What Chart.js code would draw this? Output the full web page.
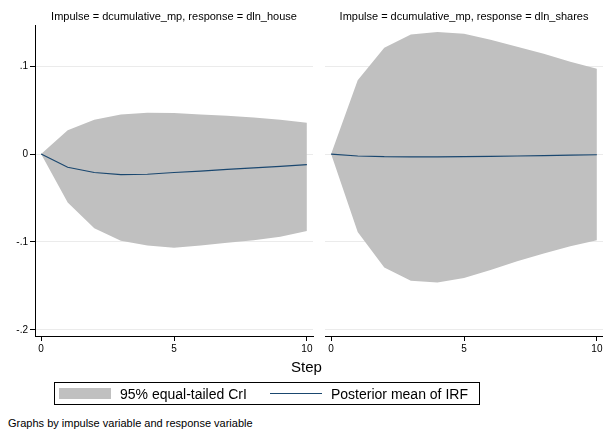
<!DOCTYPE html>
<html>
<head>
<meta charset="utf-8">
<script src="https://cdn.jsdelivr.net/npm/chart.js@4.4.1/dist/chart.umd.min.js"></script>
<style>
  body { margin: 0; background: #fff; font-family: "Liberation Sans", Arial, sans-serif; }
  #wrap { position: relative; width: 603px; height: 432px; overflow: hidden; background: #fff; }
  canvas { position: absolute; top: 0; }
  .txt { position: absolute; white-space: nowrap; color: #000; line-height: 1; }
</style>
</head>
<body>
<div id="wrap">
  <canvas id="house" width="318" height="360" style="left:0"></canvas>
  <canvas id="shares" width="285" height="360" style="left:318px"></canvas>

  <div class="txt" id="stepTitle" style="font-size:15px; left:291px; top:359px;">Step</div>

  <div id="legendBox" style="position:absolute; left:54px; top:382px; width:424px; height:21px; border:1px solid #000;">
    <div style="position:absolute; left:4px; top:5px; width:52px; height:11px; background:#c0c0c0;"></div>
    <div class="txt" style="font-size:14px; left:65px; top:4px;">95% equal-tailed CrI</div>
    <div style="position:absolute; left:215px; top:10px; width:52px; height:1px; background:#1a476f;"></div>
    <div class="txt" style="font-size:14px; left:276px; top:4px;">Posterior mean of IRF</div>
  </div>

  <div class="txt" style="font-size:11px; left:8px; top:418px;">Graphs by impulse variable and response variable</div>
</div>

<script>
const steps = [0, 1, 2, 3, 4, 5, 6, 7, 8, 9, 10];

// dln_house
const houseMean  = [0, -0.015, -0.021, -0.0235, -0.023, -0.021, -0.0194, -0.0175, -0.0158, -0.014, -0.0121];
const houseUpper = [0, 0.027, 0.039, 0.045, 0.047, 0.0466, 0.045, 0.0437, 0.0417, 0.039, 0.0356];
const houseLower = [0, -0.055, -0.0845, -0.0985, -0.104, -0.1065, -0.104, -0.101, -0.098, -0.094, -0.0875];

// dln_shares
const sharesMean  = [0, -0.0022, -0.003, -0.0031, -0.0031, -0.003, -0.0027, -0.0022, -0.0017, -0.0012, -0.0008];
const sharesUpper = [0, 0.084, 0.121, 0.136, 0.139, 0.137, 0.130, 0.122, 0.114, 0.105, 0.097];
const sharesLower = [0, -0.0886, -0.129, -0.144, -0.146, -0.141, -0.132, -0.122, -0.113, -0.105, -0.098];

const yTicks = [-0.2, -0.1, 0, 0.1];
const yLabels = ['-.2', '-.1', '0', '.1'];
const xTicks = [0, 5, 10];

const FONT = '"Liberation Sans", Arial, sans-serif';

function pts(vals) {
  return steps.map((s, i) => ({ x: s, y: vals[i] }));
}

function makePanel(id, title, mean, lower, upper, showY, pad) {
  const ctx = document.getElementById(id).getContext('2d');
  return new Chart(ctx, {
    type: 'line',
    data: {
      datasets: [
        { data: pts(lower), borderWidth: 0, pointRadius: 0, fill: false, order: 2 },
        { data: pts(upper), borderWidth: 0, pointRadius: 0, fill: '-1', backgroundColor: '#c0c0c0', order: 1 },
        // mean line drawn on top of the band
        { data: pts(mean), borderColor: '#1a476f', borderWidth: 1.2, pointRadius: 0, fill: false, order: 0 }
      ]
    },
    options: {
      responsive: false,
      animation: false,
      devicePixelRatio: 1,
      layout: { padding: pad },
      plugins: {
        legend: { display: false },
        tooltip: { enabled: false },
        title: {
          display: true,
          text: title,
          fullSize: false,
          color: '#000',
          font: { family: FONT, size: 11, weight: 'normal', lineHeight: 1.2 },
          padding: { top: 10, bottom: 2 }
        }
      },
      scales: {
        x: {
          type: 'linear',
          min: -0.23,
          max: 10.23,
          afterBuildTicks: s => { s.ticks = xTicks.map(v => ({ value: v })); },
          ticks: {
            color: '#000',
            font: { family: FONT, size: 10 },
            padding: 2,
            maxRotation: 0,
            autoSkip: false,
            callback: v => String(v)
          },
          grid: { drawOnChartArea: false, tickLength: 5, tickColor: '#000' },
          border: { color: '#000', width: 1 },
          afterFit: s => { s.height = 24; s.paddingLeft = 0; s.paddingRight = 0; }
        },
        y: {
          min: -0.207,
          max: 0.1466,
          afterBuildTicks: s => { s.ticks = yTicks.map(v => ({ value: v })); },
          ticks: {
            display: showY,
            color: '#000',
            font: { family: FONT, size: 10 },
            padding: 2,
            callback: v => yLabels[yTicks.indexOf(Math.round(v * 10) / 10)]
          },
          grid: { color: '#ebebeb', tickColor: '#000', tickLength: 5, drawTicks: showY },
          border: { display: showY, color: '#000', width: 1 },
          afterFit: s => { s.width = showY ? 35 : 0; s.paddingTop = 0; s.paddingBottom = 0; }
        }
      }
    }
  });
}

makePanel('house', 'Impulse = dcumulative_mp, response = dln_house',
  houseMean, houseLower, houseUpper, true, { left: 0, right: 5, top: 0, bottom: 0 });
makePanel('shares', 'Impulse = dcumulative_mp, response = dln_shares',
  sharesMean, sharesLower, sharesUpper, false, { left: 7, right: 0, top: 0, bottom: 0 });
</script>
</body>
</html>
